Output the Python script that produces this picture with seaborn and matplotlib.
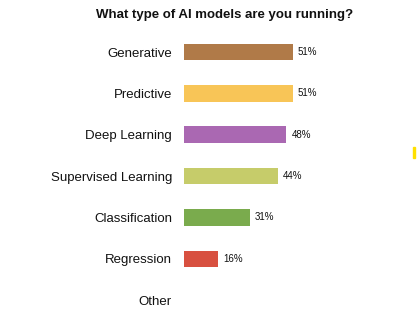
import matplotlib
matplotlib.use("Agg")
import matplotlib.pyplot as plt
import seaborn as sns
import pandas as pd
from matplotlib.patches import Rectangle

categories = ["Generative", "Predictive", "Deep Learning", "Supervised Learning",
              "Classification", "Regression", "Other"]
values = [51, 51, 48, 44, 31, 16, 0]
colors = ["#B07A48", "#F8C557", "#AA68B2", "#C6CC6A", "#7AAB4D", "#D85040", "#FFFFFF"]
title = "What type of AI models are you running?"

sns.set_theme(style="white")
plt.rcParams["font.family"] = ["Liberation Sans", "DejaVu Sans"]

df = pd.DataFrame({"category": categories, "value": values})

fig = plt.figure(figsize=(4.18, 3.27), dpi=100)
ax = fig.add_axes([0.44, 0.019, 0.511, 0.885])

sns.barplot(data=df, x="value", y="category", hue="category", palette=colors,
            legend=False, width=0.4, linewidth=0, saturation=1, ax=ax, order=categories)

ax.set_xlim(0, 100)
ax.set_ylim(6.5, -0.5)
ax.set_xlabel("")
ax.set_ylabel("")
ax.set_xticks([])
for s in ax.spines.values():
    s.set_visible(False)
ax.tick_params(axis="y", length=0, pad=8.6, labelsize=9.5, labelcolor="#111111")

for i, v in enumerate(values):
    if v > 0:
        ax.annotate(f"{v}%", xy=(v, i), xytext=(3.6, 0), textcoords="offset points",
                    ha="left", va="center", fontsize=7, color="#111111")

fig.text(0.538, 0.954, title, ha="center", va="center", fontsize=9.5,
         fontweight="bold", color="#111111")

fig.patches.append(Rectangle((413 / 418, 1 - 158 / 327), 2 / 418, 11 / 327,
                             transform=fig.transFigure, color="#FFE000", zorder=5))

fig.savefig("out.png", dpi=100)
